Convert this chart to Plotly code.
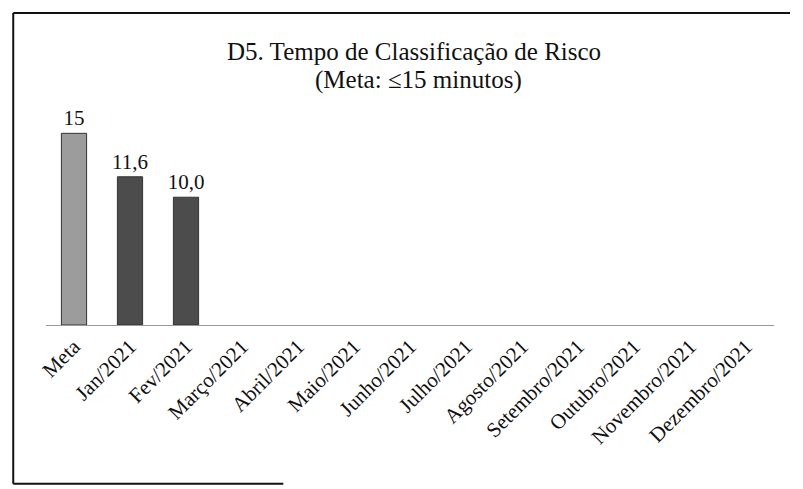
import plotly.graph_objects as go

categorias = ["Meta", "Jan/2021", "Fev/2021", "Março/2021", "Abril/2021", "Maio/2021",
              "Junho/2021", "Julho/2021", "Agosto/2021", "Setembro/2021", "Outubro/2021",
              "Novembro/2021", "Dezembro/2021"]
valores = [15, 11.6, 10.0, None, None, None, None, None, None, None, None, None, None]
rotulos = ["15", "11,6", "10,0", "", "", "", "", "", "", "", "", "", ""]
cores = ["#9c9c9c", "#4c4c4c", "#4c4c4c"] + ["#4c4c4c"] * 10
titulo = "D5. Tempo de Classificação de Risco"
subtitulo = "(Meta: ≤15 minutos)"

fonte = "Liberation Serif"

fig = go.Figure(go.Bar(
    x=categorias, y=valores, text=rotulos, textposition="outside",
    constraintext="none",
    marker=dict(color=cores, line=dict(color="#333333", width=1)),
    textfont=dict(family=fonte, size=21, color="#111111"),
    cliponaxis=False,
))

fig.update_layout(
    width=803, height=489,
    margin=dict(l=38, r=37, t=87, b=172),
    paper_bgcolor="white", plot_bgcolor="white",
    bargap=0.55, showlegend=False,
    font=dict(family=fonte, color="#111111"),
    xaxis=dict(tickangle=-45, tickfont=dict(family=fonte, size=21, color="#111111"),
               showline=True, linecolor="#999999", linewidth=1, ticks=""),
    yaxis=dict(range=[0, 18], visible=False),
)

# título em duas linhas
fig.add_annotation(text=titulo, xref="paper", yref="paper", x=0.505, y=1.187,
                   xanchor="center", yanchor="middle", showarrow=False,
                   font=dict(family=fonte, size=25, color="#111111"))
fig.add_annotation(text=subtitulo, xref="paper", yref="paper", x=0.511, y=1.065,
                   xanchor="center", yanchor="middle", showarrow=False,
                   font=dict(family=fonte, size=25, color="#111111"))

# moldura escaneada (esquerda, topo e base)
fig.add_shape(type="line", xref="paper", yref="paper", x0=-0.045, x1=-0.045, y0=-0.69, y1=1.356,
              line=dict(color="#111111", width=2))
fig.add_shape(type="line", xref="paper", yref="paper", x0=-0.045, x1=1.022, y0=1.356, y1=1.356,
              line=dict(color="#111111", width=2))
fig.add_shape(type="line", xref="paper", yref="paper", x0=-0.045, x1=0.326, y0=-0.69, y1=-0.69,
              line=dict(color="#111111", width=2))

fig.write_html("out.html")
